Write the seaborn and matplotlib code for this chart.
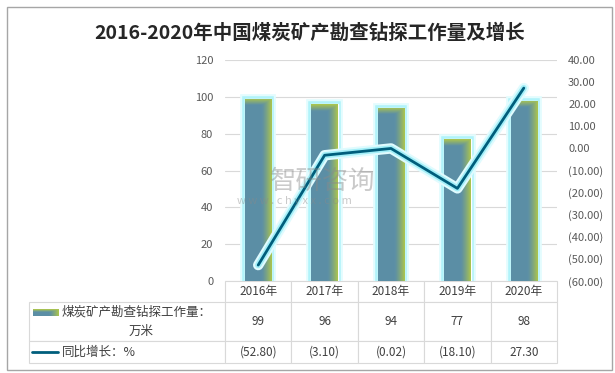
import matplotlib
matplotlib.use("Agg")
import matplotlib.pyplot as plt
import matplotlib.patheffects as pe
from matplotlib.lines import Line2D
from matplotlib.patches import Rectangle
import numpy as np
import seaborn as sns

years = ["2016年", "2017年", "2018年", "2019年", "2020年"]
volume = [99, 96, 94, 77, 98]
growth = [-52.80, -3.10, -0.02, -18.10, 27.30]
left_ticks = [0, 20, 40, 60, 80, 100, 120]
right_ticks = [-60, -50, -40, -30, -20, -10, 0, 10, 20, 30, 40]
bar_label = "煤炭矿产勘查钻探工作量："
bar_unit = "万米"
line_label = "同比增长：%"
title = "2016-2020年中国煤炭矿产勘查钻探工作量及增长"

BLUE = np.array([0.36, 0.56, 0.65])
OLIVE = np.array([0.67, 0.77, 0.31])
LINE = "#005E7C"
TXT = "#404040"
GRID = "#D9D9D9"

W, H = 615, 373


def fx(px):
    return px / W


def fy(py):
    return (H - py) / H


def fmt_growth(v):
    return f"({abs(v):.2f})" if v < 0 else f"{v:.2f}"


def gradient_img(nx, ny, top_band):
    u = np.linspace(0, 1, nx)[None, :]
    v = np.linspace(0, 1, ny)[:, None]
    tx = np.clip((u - 0.62) / 0.38, 0, 1) ** 1.3
    ty = np.clip((v - (1 - top_band)) / top_band, 0, 1)
    t = np.maximum(tx, ty)[..., None]
    return BLUE * (1 - t) + OLIVE * t


sns.set_theme(style="white")
plt.rcParams["font.family"] = ["Noto Sans CJK SC", "DejaVu Sans"]

fig = plt.figure(figsize=(6.15, 3.73), dpi=100)
ax = fig.add_axes([fx(225), fy(281), 332 / W, 221 / H])
x = np.arange(len(years))

sns.barplot(x=years, y=volume, color="#5C8FA6", width=0.4, saturation=1, ax=ax, zorder=2)

glow = [pe.Stroke(linewidth=7, foreground="#E3FCFE"),
        pe.Stroke(linewidth=4, foreground="#B0F3FA"), pe.Normal()]
for p in ax.patches:
    p.set_path_effects(glow)
    x0, w, h = p.get_x(), p.get_width(), p.get_height()
    band = 3.5 / h
    im = ax.imshow(gradient_img(40, 200, band), extent=[x0, x0 + w, 0, h],
                   origin="lower", aspect="auto", interpolation="bilinear", zorder=2.1)
    im.set_clip_path(p)

ax.set_xlim(-0.5, len(years) - 0.5)
ax.set_ylim(0, 120)
ax.set_yticks(left_ticks)
ax.yaxis.grid(True, color=GRID, linewidth=0.8)
ax.set_axisbelow(True)
ax.set_xticks([])
ax.set_xlabel("")
ax.set_ylabel("")
ax.tick_params(axis="y", length=0, pad=8.5, labelsize=8, labelcolor="#595959")
for s in ax.spines.values():
    s.set_visible(False)

ax2 = ax.twinx()
sns.lineplot(x=x, y=growth, color=LINE, linewidth=2, ax=ax2, zorder=5,
             path_effects=[pe.Stroke(linewidth=7.5, foreground="#E0FBFE"),
                           pe.Stroke(linewidth=4.5, foreground="#A3EFF8"), pe.Normal()])
ax2.set_xlim(-0.5, len(years) - 0.5)
ax2.set_ylim(-60, 40)
ax2.set_yticks(right_ticks)
ax2.set_yticklabels([fmt_growth(v) for v in right_ticks])
ax2.tick_params(axis="y", length=0, pad=8, labelsize=8, labelcolor="#595959")
ax2.set_ylabel("")
ax2.grid(False)
for s in ax2.spines.values():
    s.set_visible(False)

# data table under the plot; first column holds the series names (drawn as text below)
cell_text = [[""] + [str(v) for v in volume], [""] + [fmt_growth(v) for v in growth]]
tbl = ax.table(cellText=cell_text, colLabels=[""] + years, cellLoc="center",
               bbox=[-196 / 332, -82 / 221, 528 / 332, 82 / 221])
tbl.auto_set_font_size(False)
tbl.set_fontsize(8.5)
heights = {0: 21, 1: 39, 2: 22}
for (r, c), cell in tbl.get_celld().items():
    cell.set_edgecolor(GRID)
    cell.set_linewidth(0.8)
    cell.set_height(heights[r])
    cell.set_width(196 if c == 0 else 66.4)
    cell.get_text().set_color(TXT)
tbl[0, 0].set_visible(False)

# row labels with legend keys
fig.text(fx(62), fy(312), bar_label, fontsize=9, color=TXT, ha="left", va="center")
fig.text(fx(141), fy(331), bar_unit, fontsize=9, color=TXT, ha="center", va="center")
fig.text(fx(62), fy(352), line_label, fontsize=9, color=TXT, ha="left", va="center")
key = fig.add_axes([fx(33), fy(316), 26 / W, 7 / H])
key.imshow(gradient_img(30, 8, 0.4), origin="lower", aspect="auto", interpolation="bilinear")
key.axis("off")
fig.add_artist(Line2D([fx(32), fx(58)], [fy(352), fy(352)], color=LINE, linewidth=2))

# watermark
fig.text(fx(270), fy(181), "智研咨询", fontsize=19, color="#8A8A8A", alpha=0.45,
         ha="left", va="center")
fig.text(fx(237), fy(201), "w w w . c h y x x . c o m", fontsize=8, color="#8A8A8A",
         alpha=0.45, ha="left", va="center")

fig.text(fx(310), fy(33), title, fontsize=14, fontweight="bold", color="#262626",
         ha="center", va="center")
fig.add_artist(Rectangle((fx(7), fy(370)), 605 / W, 363 / H, fill=False,
                         edgecolor="#A6A6A6", linewidth=1, transform=fig.transFigure))

fig.savefig("out.png", dpi=100)
